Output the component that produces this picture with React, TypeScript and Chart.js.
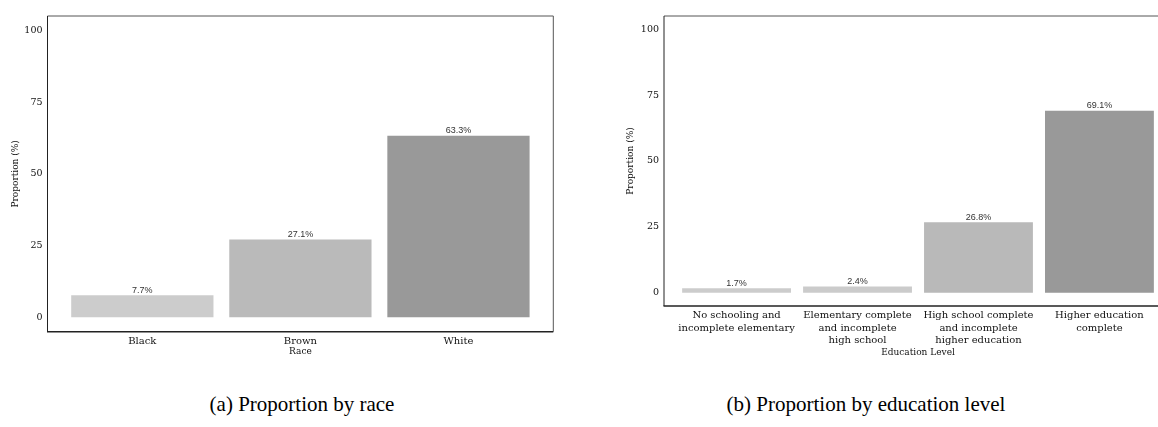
import React, { useEffect, useRef } from "react";
import { Chart, registerables } from "chart.js";

Chart.register(...registerables);

// ---- Data ----
const raceCategories: (string | string[])[] = ["Black", "Brown", "White"];
const raceValues = [7.7, 27.1, 63.3];
const raceColors = ["#cccccc", "#bababa", "#999999"];

const eduCategories: (string | string[])[] = [
  ["No schooling and", "incomplete elementary"],
  ["Elementary complete", "and incomplete", "high school"],
  ["High school complete", "and incomplete", "higher education"],
  ["Higher education", "complete"],
];
const eduValues = [1.7, 2.4, 26.8, 69.1];
const eduColors = ["#cccccc", "#cbcbcb", "#b9b9b9", "#999999"];

const yTicks = [0, 25, 50, 75, 100];
const yTitle = "Proportion (%)";

const SERIF = "'DejaVu Serif', serif";

type Geom = {
  canvasW: number;
  canvasH: number;
  yAxisW: number;
  xAxisH: number;
  pad: { left: number; top: number; right: number; bottom: number };
  yTitlePad: number;
};

const frameAndLabels = {
  id: "frameAndLabels",
  afterDatasetsDraw(chart: any) {
    const ctx = chart.ctx;
    const meta = chart.getDatasetMeta(0);
    const vals = chart.data.datasets[0].data as any[];
    ctx.save();
    ctx.font = "9px 'Liberation Sans', Arial, sans-serif";
    ctx.fillStyle = "#333333";
    ctx.textAlign = "center";
    ctx.textBaseline = "alphabetic";
    meta.data.forEach((el: any, i: number) => {
      const v = vals[i].y as number;
      ctx.fillText(v.toFixed(1) + "%", el.x, el.y - 2.5);
    });
    ctx.restore();
  },
  afterDraw(chart: any) {
    const { left, top, right, bottom } = chart.chartArea;
    const ctx = chart.ctx;
    ctx.save();
    ctx.lineWidth = 1;
    ctx.strokeStyle = "#555555";
    ctx.beginPath();
    ctx.moveTo(left, top);
    ctx.lineTo(right, top);
    ctx.lineTo(right, bottom);
    ctx.stroke();
    ctx.strokeStyle = "#222222";
    ctx.beginPath();
    ctx.moveTo(left, top);
    ctx.lineTo(left, bottom);
    ctx.stroke();
    ctx.lineWidth = 1.6;
    ctx.beginPath();
    ctx.moveTo(left - 0.5, bottom);
    ctx.lineTo(right, bottom);
    ctx.stroke();
    ctx.restore();
  },
};

function BarPanel(props: {
  categories: (string | string[])[];
  values: number[];
  colors: string[];
  xTitle: string;
  geom: Geom;
}) {
  const ref = useRef<HTMLCanvasElement | null>(null);
  const { categories, values, colors, xTitle, geom } = props;

  useEffect(() => {
    if (!ref.current) return;
    const n = categories.length;
    const chart = new Chart(ref.current, {
      type: "bar",
      data: {
        datasets: [
          {
            data: values.map((v, i) => ({ x: i + 1, y: v })),
            backgroundColor: colors,
            borderWidth: 0,
            categoryPercentage: 1,
            barPercentage: 0.9,
          } as any,
        ],
      },
      options: {
        responsive: false,
        animation: false,
        devicePixelRatio: 1,
        layout: { padding: geom.pad },
        plugins: {
          legend: { display: false },
          tooltip: { enabled: false },
        },
        scales: {
          x: {
            type: "linear",
            offset: false,
            grace: 0,
            bounds: "data",
            min: 0.4,
            max: n + 0.6,
            grid: { display: false, drawTicks: false, offset: false },
            border: { display: false },
            afterBuildTicks: (axis: any) => {
              axis.ticks = categories.map((_, i) => ({ value: i + 1 }));
            },
            afterFit: (s: any) => {
              s.height = geom.xAxisH;
            },
            ticks: {
              autoSkip: false,
              maxRotation: 0,
              minRotation: 0,
              padding: 3.5,
              color: "#111111",
              font: { family: SERIF, size: 10, lineHeight: 1.25 },
              callback: (v: any) => categories[Math.round(Number(v)) - 1] as any,
            },
            title: {
              display: true,
              text: xTitle,
              color: "#111111",
              font: { family: SERIF, size: 9, lineHeight: 1.2 },
              padding: { top: 0, bottom: 0 },
            },
          },
          y: {
            type: "linear",
            min: -5,
            max: 105,
            grid: { display: false, drawTicks: false },
            border: { display: false },
            afterBuildTicks: (axis: any) => {
              axis.ticks = yTicks.map((v) => ({ value: v }));
            },
            afterFit: (s: any) => {
              s.width = geom.yAxisW;
            },
            ticks: {
              padding: 5,
              color: "#111111",
              font: { family: SERIF, size: 9.5 },
              callback: (v: any) => String(v),
            },
            title: {
              display: true,
              text: yTitle,
              color: "#111111",
              font: { family: SERIF, size: 9, lineHeight: 1.2 },
              padding: { top: geom.yTitlePad, bottom: 0 },
            },
          },
        },
      },
      plugins: [frameAndLabels],
    } as any);
    return () => chart.destroy();
  }, []);

  return (
    <canvas
      ref={ref}
      width={geom.canvasW}
      height={geom.canvasH}
      style={{ width: geom.canvasW, height: geom.canvasH, display: "block" }}
    />
  );
}

const leftGeom: Geom = {
  canvasW: 580,
  canvasH: 380,
  yAxisW: 47.5,
  xAxisH: 25.7,
  pad: { left: 0, top: 16, right: 26.7, bottom: 380 - 331.7 - 25.7 },
  yTitlePad: 10.6,
};

const rightGeom: Geom = {
  canvasW: 600,
  canvasH: 380,
  yAxisW: 54,
  xAxisH: 52.1,
  pad: { left: 0, top: 16, right: 38, bottom: 380 - 306 - 52.1 },
  yTitlePad: 15.6,
};

const captionStyle: React.CSSProperties = {
  position: "absolute",
  top: 392,
  fontFamily: "'Liberation Serif', 'Times New Roman', serif",
  fontSize: 21,
  color: "#000",
  whiteSpace: "nowrap",
  transform: "translateX(-50%)",
  lineHeight: "24px",
};

export default function App() {
  return (
    <div
      style={{
        position: "fixed",
        left: 0,
        top: 0,
        width: 1158,
        height: 427,
        overflow: "hidden",
        background: "#ffffff",
      }}
    >
      <div style={{ position: "absolute", left: 0, top: 0 }}>
        <BarPanel
          categories={raceCategories}
          values={raceValues}
          colors={raceColors}
          xTitle="Race"
          geom={leftGeom}
        />
      </div>
      <div style={{ position: "absolute", left: 610, top: 0 }}>
        <BarPanel
          categories={eduCategories}
          values={eduValues}
          colors={eduColors}
          xTitle="Education Level"
          geom={rightGeom}
        />
      </div>
      <div style={{ ...captionStyle, left: 302 }}>(a) Proportion by race</div>
      <div style={{ ...captionStyle, left: 866 }}>(b) Proportion by education level</div>
    </div>
  );
}
